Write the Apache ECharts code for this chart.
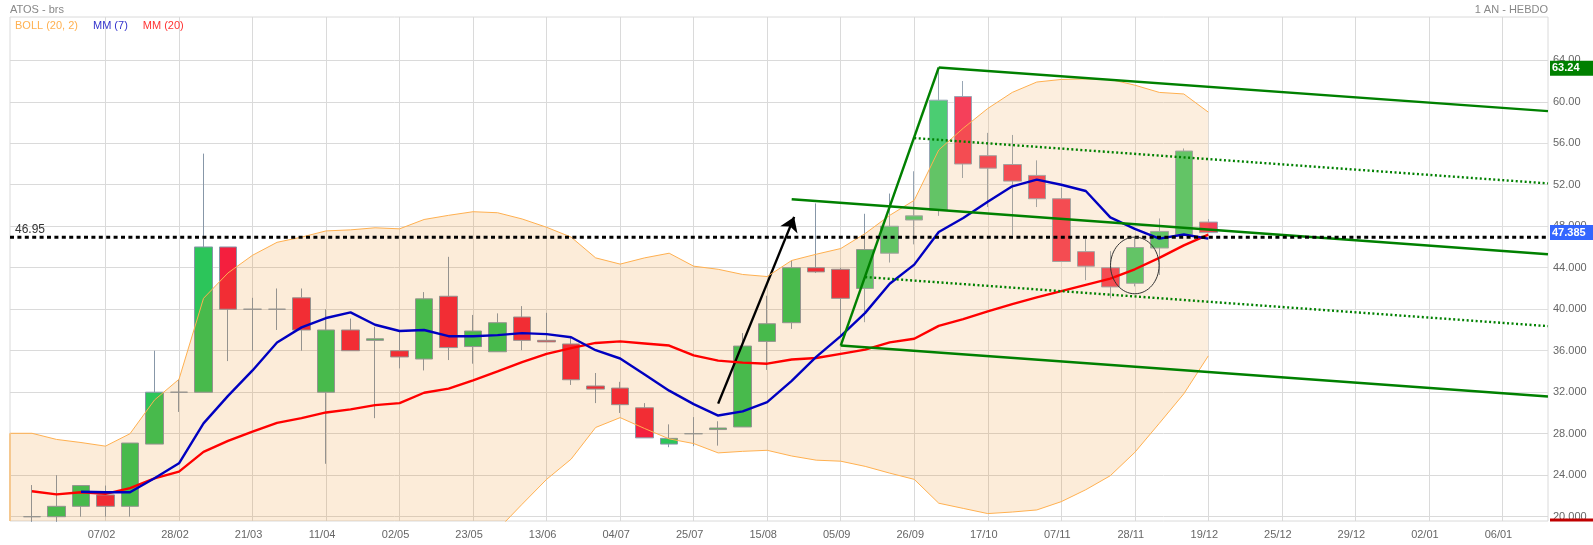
<!DOCTYPE html>
<html>
<head>
<meta charset="utf-8">
<title>ATOS - brs</title>
<script src="https://cdn.jsdelivr.net/npm/echarts@6/dist/echarts.min.js"></script>
<style>
  html, body { margin: 0; padding: 0; background: #fff; }
  #main { width: 1593px; height: 545px; }
</style>
</head>
<body>
<div id="main"></div>
<script>
// weekly candles
var opens  = [20, 20, 21, 22.1, 21, 27, 32, 32, 46, 40, 40, 41.1, 32, 38, 37, 36, 35.2, 41.25, 36.4, 35.9, 39.25, 37, 36.65, 32.6, 32.4, 30.5, 27, 28, 28.4, 28.65, 36.9, 38.7, 44, 43.85, 42, 45.4, 48.6, 49.55, 60.5, 54.8, 53.95, 52.9, 50.65, 45.55, 44, 42.5, 45.9, 47.2, 48.4];
var closes = [20, 21, 23, 21, 27.1, 32, 32, 46, 40, 40, 40, 38, 38, 36, 37.15, 35.4, 41, 36.3, 37.9, 38.7, 37, 36.85, 33.2, 32.3, 30.8, 27.6, 27.55, 28, 28.55, 36.45, 38.6, 44, 43.6, 41.05, 45.75, 48, 49, 60.15, 54, 53.6, 52.35, 50.65, 44.6, 44.15, 42.15, 45.95, 47.5, 55.25, 47.385];
var lows   = [19.5, 19.5, 20, 20, 20, 27, 30.1, 32, 35, 36, 38, 36, 25.1, 36, 29.5, 34.3, 34.1, 35.1, 34.75, 35.9, 36.05, 36.85, 32.7, 30.95, 30, 27.6, 26.7, 26.8, 26.85, 28.65, 34.15, 38.1, 43.5, 37.3, 38.75, 44.5, 46.25, 49, 52.65, 49.85, 47.1, 49.85, 44.6, 42.8, 41.05, 42.2, 43.3, 47.2, 47.385];
var highs  = [23.05, 24, 23, 23, 27.1, 36, 33.2, 55, 46, 41.1, 42, 42, 40, 39.1, 38.3, 38, 41.65, 45.05, 39.45, 39.6, 40.3, 39.65, 37.3, 33.85, 33, 30.95, 28.9, 29.6, 29.2, 37.7, 41.3, 44.7, 50.2, 44, 49.2, 51.15, 53.3, 63.3, 62, 57, 56.8, 54.35, 51.7, 46.75, 45.6, 46.9, 48.75, 55.5, 48.7];

// bollinger bands, the lower one runs under the axis until mid june
var bollUpper = [28.04, 27.45, 27.15, 26.8, 28, 31.25, 33.25, 41.05, 43.5, 45.2, 46.45, 46.95, 47.55, 47.65, 47.85, 47.75, 48.65, 49.05, 49.4, 49.3, 48.7, 47.9, 46.95, 44.95, 44.35, 44.95, 45.4, 44.15, 43.85, 43.35, 43.15, 44.7, 45.3, 45.85, 47.3, 49.05, 50.5, 55.35, 57.45, 59.35, 60.9, 61.9, 62.15, 62.2, 62.15, 61.6, 60.9, 60.75, 59];
var bollLower = [15, 15, 15, 15, 15, 15, 15, 15, 15, 15, 15, 15, 15, 15, 15, 15, 15, 16, 17, 18.75, 21.2, 23.6, 25.55, 28.6, 29.55, 28.5, 27.5, 27.05, 26.15, 26.3, 26.4, 25.85, 25.45, 25.35, 24.85, 24.2, 23.6, 21.3, 20.8, 20.3, 20.45, 20.65, 21.45, 22.6, 23.95, 26.2, 29, 31.85, 35.5];

var mm7  = [null, null, 22.4, 22.35, 22.35, 23.7, 25.15, 29, 31.65, 34.1, 36.8, 38.25, 39.15, 39.7, 38.5, 37.9, 38, 37.4, 37.4, 37.5, 37.7, 37.6, 37.3, 36.05, 35.25, 33.7, 32.15, 30.85, 29.75, 30.15, 31.05, 33.1, 35.4, 37.4, 39.65, 42.45, 44.3, 47.45, 48.8, 50.35, 51.85, 52.5, 52, 51.4, 48.85, 47.75, 46.8, 47.2, 46.8];
var mm20 = [22.45, 22.15, 22.35, 22.2, 22.75, 23.7, 24.35, 26.25, 27.3, 28.2, 29.05, 29.5, 30.05, 30.35, 30.75, 30.95, 31.95, 32.35, 33.15, 34, 34.9, 35.7, 36.25, 36.75, 36.9, 36.7, 36.5, 35.55, 35.05, 34.85, 34.75, 35.15, 35.3, 35.7, 36.1, 36.8, 37.15, 38.4, 39.05, 39.8, 40.5, 41.15, 41.75, 42.35, 42.95, 43.85, 44.95, 46.15, 47.2];

// axes
var tickIndex = [3, 6, 9, 12, 15, 18, 21, 24, 27, 30, 33, 36, 39, 42, 45, 48, 51, 54, 57, 60];
var tickDates = ['07/02', '28/02', '21/03', '11/04', '02/05', '23/05', '13/06', '04/07', '25/07', '15/08', '05/09', '26/09', '17/10', '07/11', '28/11', '19/12', '25/12', '29/12', '02/01', '06/01'];
var priceTicks = [20, 24, 28, 32, 36, 40, 44, 48, 52, 56, 60, 64];
var priceLabels = ['20.000', '24.000', '28.000', '32.000', '36.000', '40.000', '44.000', '48.000', '52.00', '56.00', '60.00', '64.00'];
var xMin = -0.896, xMax = 61.86, yMin = 19.585, yMax = 68.17;

// drawn annotations, [candle index, price]
var forkApex = [37, 63.3];
var forkBase = [33, 36.5];
var forkTop = [forkApex, [xMax, 59.1]];
var forkBottom = [forkBase, [xMax, 31.58]];
var forkHandle = [forkBase, forkApex];
var forkMiddle = [[31, 50.6], [xMax, 45.3]];
var forkDotUpper = [[36, 56.5], [xMax, 52.13]];
var forkDotLower = [[34, 43.1], [xMax, 38.37]];
var arrowLine = [[28, 30.9], [31.1, 48.9]];
var ellipseAt = [45, 44.22];
var supportLevel = 46.95;

// right hand price tags
var tagValues = [63.24, 47.385, yMin + 0.1];
var tagTexts = ['63.24', '47.385', ''];
var tagColors = ['#008000', '#3366ff', '#c00000'];

function pairs(values) {
  var out = [];
  values.forEach(function (v, i) {
    if (v !== null) out.push([i, v]);
  });
  return out;
}

function fixedLine(name, data, color, dash) {
  return {
    name: name,
    type: 'line',
    data: data,
    symbol: 'none',
    silent: true,
    z: 7,
    lineStyle: { color: color, width: 2.4, type: dash || 'solid' }
  };
}

var candles = opens.map(function (o, i) {
  return [i, o, closes[i], lows[i], highs[i]];
});

// left edge of the band starts before the first candle
var bandUpper = [[xMin, bollUpper[0]]].concat(pairs(bollUpper));
var bandLower = [[xMin, bollLower[0]]].concat(pairs(bollLower));

var myChart = echarts.init(document.getElementById('main'));

var option = {
  animation: false,
  textStyle: { fontFamily: 'Liberation Sans, Arial, sans-serif' },
  title: [
    { text: 'ATOS - brs', left: 10, top: 4, textStyle: { fontSize: 11, fontWeight: 'normal', color: '#888' }, padding: 0 },
    { text: '1 AN - HEBDO', right: 45, top: 4, textStyle: { fontSize: 11, fontWeight: 'normal', color: '#888' }, padding: 0 }
  ],
  legend: {
    left: 10,
    top: 20,
    padding: 0,
    icon: 'none',
    itemWidth: 0,
    itemHeight: 11,
    itemGap: 10,
    selectedMode: false,
    data: [
      { name: 'BOLL (20, 2)', textStyle: { color: '#ffb050', fontSize: 11 } },
      { name: 'MM (7)', textStyle: { color: '#3333cc', fontSize: 11 } },
      { name: 'MM (20)', textStyle: { color: '#ff3333', fontSize: 11 } }
    ]
  },
  grid: { left: 10, right: 45, top: 17, bottom: 24, show: true, borderColor: '#dadada', borderWidth: 1, backgroundColor: '#fff' },
  xAxis: {
    type: 'value',
    min: xMin,
    max: xMax,
    axisLine: { show: false },
    axisTick: { show: false, customValues: tickIndex },
    axisLabel: {
      customValues: tickIndex,
      color: '#666',
      fontSize: 11,
      margin: 8,
      padding: [0, 8, 0, 0],
      formatter: function (v) { return tickDates[tickIndex.indexOf(v)]; }
    },
    splitLine: { show: true, lineStyle: { color: '#dadada', width: 1 } }
  },
  yAxis: {
    type: 'value',
    position: 'right',
    min: yMin,
    max: yMax,
    axisLine: { show: false },
    axisTick: { show: false, customValues: priceTicks },
    axisLabel: {
      customValues: priceTicks,
      color: '#666',
      fontSize: 11,
      margin: 5,
      padding: [0, 0, 4, 0],
      formatter: function (v) { return priceLabels[priceTicks.indexOf(v)]; }
    },
    splitLine: { show: true, lineStyle: { color: '#dadada', width: 1 } }
  },
  series: [
    {
      name: 'ATOS',
      type: 'candlestick',
      data: candles,
      encode: { x: 0, y: [1, 2, 3, 4] },
      barWidth: 18,
      silent: true,
      z: 2,
      itemStyle: {
        color: '#2cc55a',
        color0: '#f41f3e',
        borderColor: '#8797a8',
        borderColor0: '#8797a8',
        borderWidth: 1
      }
    },
    {
      // band fill sits over the candles, that is why they look washed
      type: 'custom',
      data: [0],
      clip: true,
      silent: true,
      z: 3,
      renderItem: function (params, api) {
        var pts = bandUpper.map(function (p) { return api.coord(p); });
        bandLower.slice().reverse().forEach(function (p) { pts.push(api.coord(p)); });
        return { type: 'polygon', shape: { points: pts }, style: { fill: 'rgba(235,128,2,0.15)' } };
      }
    },
    {
      // same for the white veil inside the fork
      type: 'custom',
      data: [0],
      clip: true,
      silent: true,
      z: 4,
      renderItem: function (params, api) {
        var pts = [forkBase, forkApex, forkTop[1], forkBottom[1]].map(function (p) { return api.coord(p); });
        return { type: 'polygon', shape: { points: pts }, style: { fill: 'rgba(255,255,255,0.15)' } };
      }
    },
    {
      name: 'BOLL (20, 2)',
      type: 'line',
      data: bandUpper,
      symbol: 'none',
      silent: true,
      z: 5,
      lineStyle: { color: '#ffb050', width: 1 }
    },
    {
      name: 'BOLL lower',
      type: 'line',
      data: bandLower,
      symbol: 'none',
      silent: true,
      z: 5,
      lineStyle: { color: '#ffb050', width: 1 }
    },
    {
      name: 'BOLL edge',
      type: 'line',
      data: [[xMin, yMin], [xMin, bollUpper[0]]],
      symbol: 'none',
      silent: true,
      z: 5,
      lineStyle: { color: '#f5c890', width: 2 }
    },
    {
      name: 'MM (20)',
      type: 'line',
      data: pairs(mm20),
      symbol: 'none',
      silent: true,
      z: 6,
      lineStyle: { color: '#ff0000', width: 2.4 }
    },
    {
      name: 'MM (7)',
      type: 'line',
      data: pairs(mm7),
      symbol: 'none',
      silent: true,
      z: 6,
      lineStyle: { color: '#0000c0', width: 2.4 }
    },
    fixedLine('fork top', forkTop, '#008000'),
    fixedLine('fork bottom', forkBottom, '#008000'),
    fixedLine('fork handle', forkHandle, '#008000'),
    fixedLine('fork middle', forkMiddle, '#008000'),
    fixedLine('fork dot up', forkDotUpper, '#008000', [2, 2.5]),
    fixedLine('fork dot low', forkDotLower, '#008000', [2, 2.5]),
    {
      name: 'support',
      type: 'line',
      data: [[xMin, supportLevel], [xMax, supportLevel]],
      symbol: 'none',
      silent: true,
      z: 8,
      lineStyle: { color: '#000', width: 3, type: [4, 3.4] },
      markLine: {
        silent: true,
        animation: false,
        symbol: 'none',
        data: [
          [
            { coord: arrowLine[0], symbol: 'none', lineStyle: { color: '#000', width: 2.4, type: 'solid' }, label: { show: false } },
            { coord: arrowLine[1], symbol: 'arrow', symbolSize: 14 }
          ],
          {
            yAxis: supportLevel,
            lineStyle: { color: 'rgba(0,0,0,0)', width: 1, type: 'solid' },
            label: {
              show: true,
              position: 'insideStartTop',
              formatter: '46.95',
              color: '#333',
              fontSize: 12,
              distance: 1,
              padding: [0, 0, 0, 4]
            }
          }
        ]
      }
    },
    {
      // hand drawn circle round the 28/11 candle
      type: 'custom',
      data: [ellipseAt],
      silent: true,
      z: 9,
      renderItem: function (params, api) {
        var c = api.coord(ellipseAt);
        var s = api.size([1, 2.73]);
        return {
          type: 'ellipse',
          shape: { cx: c[0], cy: c[1], rx: s[0] * 0.99, ry: s[1] },
          style: { fill: 'none', stroke: '#333', lineWidth: 1 }
        };
      }
    },
    {
      // price tags stuck on the right side of the axis
      type: 'custom',
      data: tagValues.map(function (v, i) { return [i, v]; }),
      encode: { y: 1 },
      silent: true,
      z: 10,
      renderItem: function (params, api) {
        var i = api.value(0);
        var p = api.coord([xMax, api.value(1)]);
        var txt = tagTexts[i];
        var h = txt ? 15 : 3;
        return {
          type: 'group',
          children: [
            {
              type: 'rect',
              shape: { x: p[0] + 2, y: p[1] - h / 2, width: 43, height: h },
              style: { fill: tagColors[i] }
            },
            {
              type: 'text',
              style: {
                x: p[0] + 4,
                y: p[1],
                text: txt,
                fill: '#fff',
                font: 'bold 11px Liberation Sans, Arial, sans-serif',
                verticalAlign: 'middle'
              }
            }
          ]
        };
      }
    }
  ]
};

myChart.setOption(option);
</script>
</body>
</html>
